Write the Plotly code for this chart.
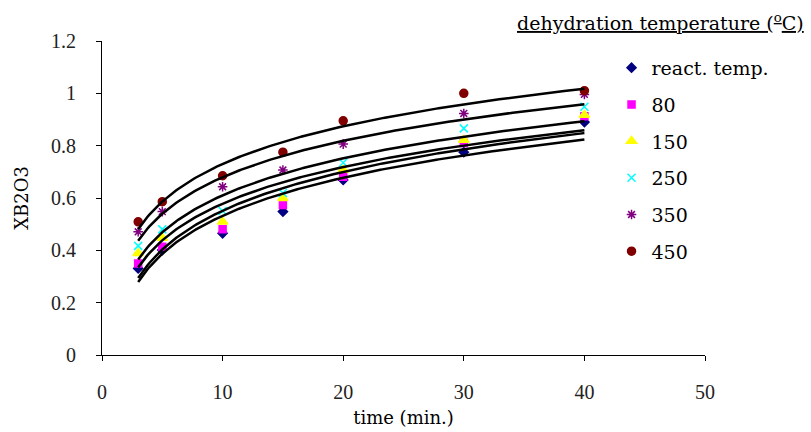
import numpy as np
import plotly.graph_objects as go

time_min = [3, 5, 10, 15, 20, 30, 40]
series_names = ["react. temp.", "80", "150", "250", "350", "450"]
y_react = [0.331, 0.401, 0.465, 0.548, 0.669, 0.775, 0.890]
y_80 = [0.350, 0.414, 0.481, 0.573, 0.681, 0.810, 0.912]
y_150 = [0.389, 0.447, 0.509, 0.599, 0.707, 0.822, 0.917]
y_250 = [0.417, 0.480, 0.550, 0.619, 0.735, 0.866, 0.949]
y_350 = [0.471, 0.548, 0.643, 0.707, 0.806, 0.923, 0.996]
y_450 = [0.509, 0.586, 0.685, 0.775, 0.895, 1.000, 1.010]
x_ticks = [0, 10, 20, 30, 40, 50]
y_ticks = [0, 0.2, 0.4, 0.6, 0.8, 1.0, 1.2]
y_tick_labels = ["0", "0.2", "0.4", "0.6", "0.8", "1", "1.2"]

all_y = [y_react, y_80, y_150, y_250, y_350, y_450]
colors = ["#000080", "#FF00FF", "#FFFF00", "#00FFFF", "#800080", "#800000"]
symbols = ["diamond", "square", "triangle-up", "x-thin-open", "asterisk-open", "circle"]
sizes = [7, 7, 9, 8, 8, 8]

TICKFONT = "Liberation Serif"
TEXTFONT = "DejaVu Serif"
fig = go.Figure()

for i, (name, ys) in enumerate(zip(series_names, all_y)):
    fig.add_trace(go.Scatter(
        x=time_min, y=ys, mode="markers", name=name,
        legendgroup=name,
        marker=dict(symbol=symbols[i], color=colors[i], size=sizes[i],
                    line=dict(color=colors[i], width=1.5)),
    ))

# logarithmic trendlines (Excel-style) fitted from the data
xs = np.linspace(min(time_min), max(time_min), 200)
for i, ys in enumerate(all_y):
    b, a = np.polyfit(np.log(time_min), ys, 1)
    fig.add_trace(go.Scatter(
        x=xs, y=a + b * np.log(xs), mode="lines", showlegend=False,
        line=dict(color="black", width=2.5), hoverinfo="skip",
    ))

fig.update_layout(
    width=811, height=432,
    margin=dict(l=102, r=106, t=41, b=77, autoexpand=False),
    paper_bgcolor="white", plot_bgcolor="white",
    font=dict(family=TEXTFONT, size=18, color="black"),
    showlegend=True,
    legend=dict(x=0.845, y=0.975, xanchor="left", yanchor="top",
                font=dict(family=TEXTFONT, size=19, color="black"),
                tracegroupgap=9, itemwidth=30, bgcolor="rgba(0,0,0,0)"),
    xaxis=dict(range=[0, 50], tickvals=x_ticks, showgrid=False, zeroline=False,
               showline=True, linecolor="black", linewidth=1,
               ticks="outside", ticklen=5, tickcolor="black",
               ticklabelstandoff=14, automargin=False,
               tickfont=dict(family=TICKFONT, size=20, color="#222"),
               title=dict(text="time (min.)", standoff=9,
                          font=dict(family=TEXTFONT, size=18))),
    yaxis=dict(range=[0, 1.2], tickvals=y_ticks, ticktext=y_tick_labels,
               showgrid=False, zeroline=False,
               showline=True, linecolor="black", linewidth=1,
               ticks="outside", ticklen=5, tickcolor="black",
               ticklabelstandoff=16, automargin=False,
               tickfont=dict(family=TICKFONT, size=20, color="#222"),
               title=dict(text="XB2O3", standoff=17,
                          font=dict(family=TEXTFONT, size=18))),
)

fig.add_annotation(
    text="<u>dehydration temperature (<sup>o</sup>C)</u>",
    xref="paper", yref="paper", x=1.168, y=1.06, xanchor="right", yanchor="middle",
    showarrow=False, font=dict(family=TEXTFONT, size=19, color="black"),
)

fig.write_html("out.html", config={"displayModeBar": False},
               post_script="document.body.style.margin='0';")
